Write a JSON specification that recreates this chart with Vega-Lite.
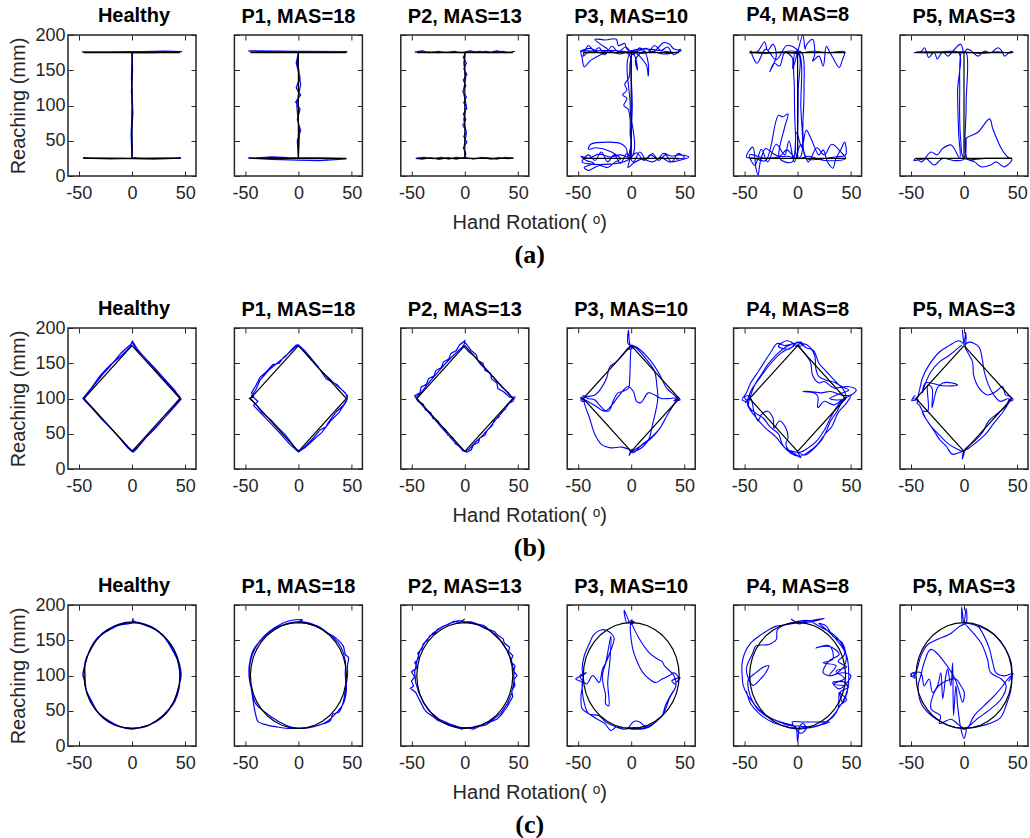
{
"$schema": "https://vega.github.io/schema/vega-lite/v6.json",
"background": "white",
"padding": {"left": 8, "top": 4, "right": 0, "bottom": 0},
"config": {
  "view": {"stroke": "#262626", "strokeWidth": 1.5},
  "axis": {"grid": false, "domain": false, "ticks": true, "tickSize": -5, "tickColor": "#262626", "tickWidth": 1,
           "labelFont": "Liberation Sans", "labelFontSize": 18, "labelColor": "#262626",
           "titleFont": "Liberation Sans", "titleFontSize": 20, "titleFontWeight": "normal", "titleColor": "#262626", "titlePadding": 6},
  "axisX": {"tickCount": 3, "labelPadding": 13, "labelExpr": "'' + datum.value"},
  "axisY": {"tickCount": 4, "labelPadding": 8},
  "title": {"font": "Liberation Sans", "fontSize": 20, "fontWeight": "bold", "color": "#000000", "offset": 8}
},
"datasets": {
"ref": [
{"s":"I","x":-45,"y":175},{"s":"I","x":45,"y":175},{"s":"I","x":0,"y":175},{"s":"I","x":0,"y":25},{"s":"I","x":-45,"y":25},{"s":"I","x":45,"y":25},
{"s":"D","x":0,"y":175},{"s":"D","x":45,"y":100},{"s":"D","x":0,"y":25},{"s":"D","x":-45,"y":100},{"s":"D","x":0,"y":175},
{"s":"C","x":45,"y":100},{"s":"C","x":44.3,"y":113},{"s":"C","x":42.3,"y":125.7},{"s":"C","x":39,"y":137.5},{"s":"C","x":34.5,"y":148.2},{"s":"C","x":28.9,"y":157.5},{"s":"C","x":22.5,"y":165},{"s":"C","x":15.4,"y":170.5},{"s":"C","x":7.8,"y":173.9},{"s":"C","x":0,"y":175},
{"s":"C","x":-7.8,"y":173.9},{"s":"C","x":-15.4,"y":170.5},{"s":"C","x":-22.5,"y":165},{"s":"C","x":-28.9,"y":157.5},{"s":"C","x":-34.5,"y":148.2},{"s":"C","x":-39,"y":137.5},{"s":"C","x":-42.3,"y":125.7},{"s":"C","x":-44.3,"y":113},{"s":"C","x":-45,"y":100},
{"s":"C","x":-44.3,"y":87},{"s":"C","x":-42.3,"y":74.3},{"s":"C","x":-39,"y":62.5},{"s":"C","x":-34.5,"y":51.8},{"s":"C","x":-28.9,"y":42.5},{"s":"C","x":-22.5,"y":35},{"s":"C","x":-15.4,"y":29.5},{"s":"C","x":-7.8,"y":26.1},{"s":"C","x":0,"y":25},
{"s":"C","x":7.8,"y":26.1},{"s":"C","x":15.4,"y":29.5},{"s":"C","x":22.5,"y":35},{"s":"C","x":28.9,"y":42.5},{"s":"C","x":34.5,"y":51.8},{"s":"C","x":39,"y":62.5},{"s":"C","x":42.3,"y":74.3},{"s":"C","x":44.3,"y":87},{"s":"C","x":45,"y":100}
],
"tr": [
{"p":"a1","x":-47,"y":176},{"p":"a1","x":-20,"y":175.5},{"p":"a1","x":10,"y":176.5},{"p":"a1","x":30,"y":177},{"p":"a1","x":47,"y":176.5},{"p":"a1","x":20,"y":175},{"p":"a1","x":0,"y":175},{"p":"a1","x":0.5,"y":150},{"p":"a1","x":-0.5,"y":120},{"p":"a1","x":0.8,"y":90},{"p":"a1","x":-0.3,"y":60},{"p":"a1","x":0.3,"y":40},{"p":"a1","x":0,"y":25},{"p":"a1","x":-20,"y":24.5},{"p":"a1","x":-46,"y":25.5},{"p":"a1","x":-10,"y":25},{"p":"a1","x":20,"y":24},{"p":"a1","x":46,"y":25.5},{"p":"a1","x":10,"y":25},{"p":"a1","x":0,"y":26},{"p":"a1","x":-0.8,"y":60},{"p":"a1","x":0.5,"y":100},{"p":"a1","x":-0.5,"y":140},{"p":"a1","x":0.5,"y":176},{"p":"a1","x":-20,"y":176},{"p":"a1","x":-46,"y":175.5},{"p":"a1","x":0,"y":176.5},{"p":"a1","x":47,"y":176},{"p":"a1","x":0,"y":175},
{"p":"a2","x":-47,"y":177.5},{"p":"a2","x":-20,"y":177},{"p":"a2","x":10,"y":176.5},{"p":"a2","x":46,"y":176},{"p":"a2","x":0,"y":175.5},{"p":"a2","x":-2,"y":160},{"p":"a2","x":1.5,"y":140},{"p":"a2","x":-2,"y":125},{"p":"a2","x":2,"y":115},{"p":"a2","x":-2.5,"y":105},{"p":"a2","x":1.5,"y":95},{"p":"a2","x":-1,"y":80},{"p":"a2","x":2,"y":65},{"p":"a2","x":-1,"y":50},{"p":"a2","x":0,"y":26},{"p":"a2","x":-45,"y":25},{"p":"a2","x":-25,"y":27},{"p":"a2","x":-10,"y":26},{"p":"a2","x":20,"y":25.5},{"p":"a2","x":45,"y":24.5},{"p":"a2","x":20,"y":22},{"p":"a2","x":0,"y":22.5},{"p":"a2","x":-25,"y":23.5},{"p":"a2","x":-47,"y":25.5},{"p":"a2","x":0,"y":25},{"p":"a2","x":1,"y":60},{"p":"a2","x":-1.5,"y":100},{"p":"a2","x":2,"y":130},{"p":"a2","x":-1,"y":165},{"p":"a2","x":0,"y":176},{"p":"a2","x":46,"y":176.5},{"p":"a2","x":-46,"y":177},
{"p":"a3","x":-47,"y":176},{"p":"a3","x":-40,"y":177.5},{"p":"a3","x":-33,"y":175},{"p":"a3","x":-25,"y":177},{"p":"a3","x":-18,"y":175.5},{"p":"a3","x":-10,"y":177},{"p":"a3","x":-3,"y":175},{"p":"a3","x":5,"y":177.5},{"p":"a3","x":12,"y":175.5},{"p":"a3","x":20,"y":177},{"p":"a3","x":28,"y":175},{"p":"a3","x":35,"y":177},{"p":"a3","x":42,"y":175.5},{"p":"a3","x":47,"y":176.5},{"p":"a3","x":38,"y":175},{"p":"a3","x":30,"y":177.5},{"p":"a3","x":22,"y":175},{"p":"a3","x":14,"y":177},{"p":"a3","x":6,"y":175.5},{"p":"a3","x":1,"y":176},
{"p":"a3","x":-1.5,"y":168},{"p":"a3","x":1.5,"y":160},{"p":"a3","x":-1,"y":152},{"p":"a3","x":2,"y":144},{"p":"a3","x":-1.5,"y":136},{"p":"a3","x":1,"y":128},{"p":"a3","x":-2,"y":120},{"p":"a3","x":1.5,"y":112},{"p":"a3","x":-1,"y":104},{"p":"a3","x":2,"y":96},{"p":"a3","x":-1.5,"y":88},{"p":"a3","x":1,"y":80},{"p":"a3","x":-2,"y":72},{"p":"a3","x":1.5,"y":64},{"p":"a3","x":-1,"y":56},{"p":"a3","x":2,"y":48},{"p":"a3","x":-1.5,"y":40},{"p":"a3","x":1,"y":32},{"p":"a3","x":0,"y":25},
{"p":"a3","x":-8,"y":26.5},{"p":"a3","x":-15,"y":24},{"p":"a3","x":-22,"y":26.5},{"p":"a3","x":-30,"y":24.5},{"p":"a3","x":-38,"y":26.5},{"p":"a3","x":-46,"y":25},{"p":"a3","x":-40,"y":24},{"p":"a3","x":-32,"y":26},{"p":"a3","x":-24,"y":23.5},{"p":"a3","x":-16,"y":26},{"p":"a3","x":-8,"y":24},{"p":"a3","x":0,"y":26.5},{"p":"a3","x":8,"y":24},{"p":"a3","x":16,"y":26.5},{"p":"a3","x":24,"y":24},{"p":"a3","x":32,"y":26},{"p":"a3","x":40,"y":24.5},{"p":"a3","x":46,"y":25.5},{"p":"a3","x":38,"y":26.5},{"p":"a3","x":30,"y":24},{"p":"a3","x":20,"y":26},{"p":"a3","x":10,"y":24.5},{"p":"a3","x":1,"y":25},
{"p":"a3","x":-1,"y":40},{"p":"a3","x":1.5,"y":60},{"p":"a3","x":-1,"y":80},{"p":"a3","x":1.5,"y":100},{"p":"a3","x":-1.5,"y":120},{"p":"a3","x":1,"y":140},{"p":"a3","x":-1,"y":160},{"p":"a3","x":0.5,"y":175},{"p":"a3","x":-10,"y":176.5},{"p":"a3","x":-25,"y":175},{"p":"a3","x":-40,"y":177},{"p":"a3","x":-47,"y":175.5},
{"p":"a4","x":-48,"y":177},{"p":"a4","x":-38,"y":181},{"p":"a4","x":-30,"y":175},{"p":"a4","x":-22,"y":179},{"p":"a4","x":-28,"y":186},{"p":"a4","x":-34,"y":194},{"p":"a4","x":-24,"y":193},{"p":"a4","x":-14,"y":194},{"p":"a4","x":-12,"y":185},{"p":"a4","x":-6,"y":188},{"p":"a4","x":-4,"y":180},{"p":"a4","x":6,"y":177},{"p":"a4","x":14,"y":181},{"p":"a4","x":20,"y":176},{"p":"a4","x":26,"y":183},{"p":"a4","x":30,"y":189},{"p":"a4","x":36,"y":187},{"p":"a4","x":40,"y":180},{"p":"a4","x":47,"y":178},{"p":"a4","x":40,"y":175},{"p":"a4","x":30,"y":173},{"p":"a4","x":20,"y":177},{"p":"a4","x":10,"y":174},{"p":"a4","x":0,"y":178},{"p":"a4","x":-10,"y":173},{"p":"a4","x":-20,"y":176},{"p":"a4","x":-30,"y":171},{"p":"a4","x":-38,"y":164},{"p":"a4","x":-44,"y":155},{"p":"a4","x":-46,"y":168},{"p":"a4","x":-47,"y":176},{"p":"a4","x":-36,"y":177},{"p":"a4","x":-26,"y":174},{"p":"a4","x":-16,"y":178},{"p":"a4","x":-6,"y":176},{"p":"a4","x":0,"y":177},{"p":"a4","x":4,"y":168},{"p":"a4","x":6,"y":150},{"p":"a4","x":4,"y":165},{"p":"a4","x":12,"y":177},{"p":"a4","x":16,"y":160},{"p":"a4","x":16,"y":142},{"p":"a4","x":14,"y":158},{"p":"a4","x":2,"y":176},
{"p":"a4","x":-1,"y":160},{"p":"a4","x":-2,"y":140},{"p":"a4","x":-6,"y":130},{"p":"a4","x":-4,"y":122},{"p":"a4","x":-8,"y":115},{"p":"a4","x":-4,"y":110},{"p":"a4","x":-7,"y":100},{"p":"a4","x":-3,"y":95},{"p":"a4","x":-1,"y":80},{"p":"a4","x":-1,"y":60},{"p":"a4","x":0,"y":45},{"p":"a4","x":-2,"y":30},{"p":"a4","x":-1,"y":26},{"p":"a4","x":-10,"y":30},{"p":"a4","x":-20,"y":27},{"p":"a4","x":-30,"y":31},{"p":"a4","x":-40,"y":25},{"p":"a4","x":-47,"y":28},{"p":"a4","x":-42,"y":22},{"p":"a4","x":-35,"y":18},{"p":"a4","x":-44,"y":12},{"p":"a4","x":-40,"y":8},{"p":"a4","x":-30,"y":15},{"p":"a4","x":-22,"y":12},{"p":"a4","x":-15,"y":20},{"p":"a4","x":-10,"y":24},{"p":"a4","x":-20,"y":35},{"p":"a4","x":-33,"y":40},{"p":"a4","x":-40,"y":38},{"p":"a4","x":-38,"y":45},{"p":"a4","x":-20,"y":48},{"p":"a4","x":-10,"y":46},{"p":"a4","x":-5,"y":40},{"p":"a4","x":-2,"y":25},{"p":"a4","x":5,"y":33},{"p":"a4","x":12,"y":22},{"p":"a4","x":18,"y":30},{"p":"a4","x":25,"y":24},{"p":"a4","x":30,"y":32},{"p":"a4","x":38,"y":28},{"p":"a4","x":45,"y":30},{"p":"a4","x":54,"y":27},{"p":"a4","x":45,"y":22},{"p":"a4","x":36,"y":20},{"p":"a4","x":28,"y":26},{"p":"a4","x":20,"y":20},{"p":"a4","x":10,"y":24},{"p":"a4","x":2,"y":18},{"p":"a4","x":-3,"y":12},{"p":"a4","x":-1,"y":26},{"p":"a4","x":0,"y":60},{"p":"a4","x":1,"y":100},{"p":"a4","x":0,"y":140},{"p":"a4","x":-1,"y":170},{"p":"a4","x":-5,"y":176},{"p":"a4","x":-20,"y":178},{"p":"a4","x":-40,"y":176},
{"p":"a4","x":-45,"y":170},{"p":"a4","x":-40,"y":185},{"p":"a4","x":-35,"y":178},{"p":"a4","x":-30,"y":182},{"p":"a4","x":-25,"y":172},{"p":"a4","x":-18,"y":184},{"p":"a4","x":-12,"y":176},{"p":"a4","x":-5,"y":183},{"p":"a4","x":2,"y":172},{"p":"a4","x":8,"y":182},{"p":"a4","x":15,"y":175},{"p":"a4","x":22,"y":185},{"p":"a4","x":28,"y":178},{"p":"a4","x":34,"y":183},{"p":"a4","x":40,"y":172},{"p":"a4","x":46,"y":180},{"p":"a4","x":44,"y":176},{"p":"a4","x":0,"y":176},{"p":"a4","x":-1,"y":100},{"p":"a4","x":0,"y":26},
{"p":"a4","x":-46,"y":20},{"p":"a4","x":-40,"y":30},{"p":"a4","x":-34,"y":22},{"p":"a4","x":-28,"y":34},{"p":"a4","x":-22,"y":20},{"p":"a4","x":-16,"y":30},{"p":"a4","x":-10,"y":18},{"p":"a4","x":-4,"y":32},{"p":"a4","x":2,"y":20},{"p":"a4","x":8,"y":34},{"p":"a4","x":14,"y":24},{"p":"a4","x":20,"y":32},{"p":"a4","x":26,"y":22},{"p":"a4","x":32,"y":30},{"p":"a4","x":38,"y":20},{"p":"a4","x":44,"y":32},{"p":"a4","x":50,"y":26},{"p":"a4","x":42,"y":24},
{"p":"a5","x":-45,"y":175},{"p":"a5","x":-38,"y":176},{"p":"a5","x":-31,"y":190},{"p":"a5","x":-28,"y":178},{"p":"a5","x":-23,"y":187},{"p":"a5","x":-20,"y":170},{"p":"a5","x":-26,"y":148},{"p":"a5","x":-22,"y":160},{"p":"a5","x":-17,"y":156},{"p":"a5","x":-12,"y":175},{"p":"a5","x":-5,"y":168},{"p":"a5","x":-4.5,"y":152},{"p":"a5","x":0,"y":176},{"p":"a5","x":5,"y":200},{"p":"a5","x":7,"y":180},{"p":"a5","x":8,"y":185},{"p":"a5","x":14,"y":194},{"p":"a5","x":16,"y":172},{"p":"a5","x":14,"y":163},{"p":"a5","x":20,"y":170},{"p":"a5","x":24,"y":156},{"p":"a5","x":27,"y":184},{"p":"a5","x":30,"y":176},{"p":"a5","x":33,"y":168},{"p":"a5","x":39,"y":154},{"p":"a5","x":42,"y":165},{"p":"a5","x":44,"y":176},{"p":"a5","x":30,"y":175},{"p":"a5","x":15,"y":177},{"p":"a5","x":0,"y":174},{"p":"a5","x":-15,"y":176},{"p":"a5","x":-30,"y":174},{"p":"a5","x":-45,"y":176},{"p":"a5","x":-20,"y":175},{"p":"a5","x":0,"y":175},{"p":"a5","x":0.5,"y":120},{"p":"a5","x":0,"y":60},{"p":"a5","x":-1,"y":25},{"p":"a5","x":-5,"y":30},{"p":"a5","x":-10,"y":37},{"p":"a5","x":-17,"y":28},{"p":"a5","x":-23,"y":32},{"p":"a5","x":-30,"y":39},{"p":"a5","x":-35,"y":20},{"p":"a5","x":-37,"y":1.5},{"p":"a5","x":-39,"y":11},{"p":"a5","x":-42,"y":41},{"p":"a5","x":-48,"y":27},{"p":"a5","x":-40,"y":25},{"p":"a5","x":-30,"y":22},{"p":"a5","x":-18,"y":86},{"p":"a5","x":-14,"y":84},{"p":"a5","x":-9,"y":88},{"p":"a5","x":-12,"y":70},{"p":"a5","x":-17,"y":25},{"p":"a5","x":-5,"y":20},{"p":"a5","x":-1,"y":62},{"p":"a5","x":4,"y":40},{"p":"a5","x":8,"y":65},{"p":"a5","x":12,"y":55},{"p":"a5","x":14,"y":48},{"p":"a5","x":20,"y":30},{"p":"a5","x":24,"y":37},{"p":"a5","x":28,"y":20},{"p":"a5","x":30,"y":15.5},{"p":"a5","x":33,"y":11},{"p":"a5","x":36,"y":25},{"p":"a5","x":41,"y":39},{"p":"a5","x":44,"y":48},{"p":"a5","x":45,"y":30},{"p":"a5","x":35,"y":27},{"p":"a5","x":20,"y":24},{"p":"a5","x":8,"y":25},{"p":"a5","x":5,"y":60},{"p":"a5","x":6,"y":120},{"p":"a5","x":4,"y":175},{"p":"a5","x":-2,"y":176},{"p":"a5","x":-3,"y":120},{"p":"a5","x":-2,"y":60},{"p":"a5","x":0,"y":25},{"p":"a5","x":10,"y":28},{"p":"a5","x":25,"y":22},{"p":"a5","x":45,"y":25},
{"p":"a5","x":40,"y":35},{"p":"a5","x":32,"y":45},{"p":"a5","x":25,"y":30},{"p":"a5","x":18,"y":40},{"p":"a5","x":10,"y":20},{"p":"a5","x":3,"y":45},{"p":"a5","x":-3,"y":20},{"p":"a5","x":-8,"y":50},{"p":"a5","x":-12,"y":30},{"p":"a5","x":-20,"y":45},{"p":"a5","x":-28,"y":20},{"p":"a5","x":-34,"y":38},{"p":"a5","x":-40,"y":15},{"p":"a5","x":-45,"y":30},{"p":"a5","x":-30,"y":25},{"p":"a5","x":-10,"y":28},{"p":"a5","x":2,"y":26},{"p":"a5","x":3,"y":100},{"p":"a5","x":1,"y":176},{"p":"a5","x":-10,"y":185},{"p":"a5","x":-20,"y":165},{"p":"a5","x":-30,"y":180},{"p":"a5","x":-38,"y":160},{"p":"a5","x":-44,"y":178},
{"p":"a6","x":-47,"y":175},{"p":"a6","x":-40,"y":177},{"p":"a6","x":-37,"y":182},{"p":"a6","x":-33,"y":168},{"p":"a6","x":-28,"y":176},{"p":"a6","x":-25,"y":166},{"p":"a6","x":-20,"y":176},{"p":"a6","x":-15,"y":170},{"p":"a6","x":-10,"y":178},{"p":"a6","x":-3,"y":187},{"p":"a6","x":0,"y":175},{"p":"a6","x":3,"y":180},{"p":"a6","x":8,"y":176},{"p":"a6","x":13,"y":170},{"p":"a6","x":19,"y":177},{"p":"a6","x":25,"y":175},{"p":"a6","x":32,"y":182},{"p":"a6","x":36,"y":176},{"p":"a6","x":38,"y":170},{"p":"a6","x":44,"y":177},{"p":"a6","x":46,"y":175},{"p":"a6","x":30,"y":176},{"p":"a6","x":15,"y":174},{"p":"a6","x":0,"y":176},{"p":"a6","x":-15,"y":177},{"p":"a6","x":-30,"y":175},{"p":"a6","x":-45,"y":176},{"p":"a6","x":-20,"y":176},{"p":"a6","x":-5,"y":175},{"p":"a6","x":-6,"y":120},{"p":"a6","x":-5,"y":60},{"p":"a6","x":-4,"y":25},{"p":"a6","x":-12,"y":44},{"p":"a6","x":-20,"y":39},{"p":"a6","x":-25,"y":30},{"p":"a6","x":-31,"y":34},{"p":"a6","x":-40,"y":20},{"p":"a6","x":-45,"y":25},{"p":"a6","x":-47,"y":22},{"p":"a6","x":-35,"y":24},{"p":"a6","x":-28,"y":15.5},{"p":"a6","x":-20,"y":25},{"p":"a6","x":-10,"y":22},{"p":"a6","x":0,"y":24},{"p":"a6","x":2,"y":48},{"p":"a6","x":2,"y":53},{"p":"a6","x":13,"y":62},{"p":"a6","x":24,"y":81},{"p":"a6","x":27,"y":67},{"p":"a6","x":35,"y":39},{"p":"a6","x":41,"y":27},{"p":"a6","x":45,"y":24},{"p":"a6","x":38,"y":13},{"p":"a6","x":30,"y":20},{"p":"a6","x":25,"y":15.5},{"p":"a6","x":16,"y":13},{"p":"a6","x":10,"y":20},{"p":"a6","x":3,"y":25},{"p":"a6","x":2,"y":100},{"p":"a6","x":2,"y":175},{"p":"a6","x":-2,"y":176},{"p":"a6","x":-4,"y":120},{"p":"a6","x":-3,"y":50},{"p":"a6","x":0,"y":25},{"p":"a6","x":20,"y":25},{"p":"a6","x":45,"y":25},
{"p":"b1","x":0,"y":176},{"p":"b1","x":-5,"y":168},{"p":"b1","x":-12,"y":158},{"p":"b1","x":-20,"y":148},{"p":"b1","x":-24,"y":142},{"p":"b1","x":-30,"y":132},{"p":"b1","x":-38,"y":115},{"p":"b1","x":-46,"y":100},{"p":"b1","x":-38,"y":87},{"p":"b1","x":-28,"y":70},{"p":"b1","x":-20,"y":58},{"p":"b1","x":-10,"y":42},{"p":"b1","x":-3,"y":30},{"p":"b1","x":0,"y":26},{"p":"b1","x":5,"y":31},{"p":"b1","x":12,"y":43},{"p":"b1","x":22,"y":58},{"p":"b1","x":30,"y":72},{"p":"b1","x":38,"y":86},{"p":"b1","x":45,"y":100},{"p":"b1","x":40,"y":112},{"p":"b1","x":32,"y":125},{"p":"b1","x":22,"y":142},{"p":"b1","x":12,"y":158},{"p":"b1","x":4,"y":170},{"p":"b1","x":0,"y":180},{"p":"b1","x":-1,"y":177},{"p":"b1","x":-10,"y":165},{"p":"b1","x":-22,"y":143},{"p":"b1","x":-26,"y":137},{"p":"b1","x":-34,"y":122},{"p":"b1","x":-44,"y":103},{"p":"b1","x":-45,"y":98},{"p":"b1","x":-36,"y":84},{"p":"b1","x":-25,"y":66},{"p":"b1","x":-14,"y":48},{"p":"b1","x":-4,"y":30},{"p":"b1","x":1,"y":24},{"p":"b1","x":4,"y":28},{"p":"b1","x":15,"y":48},{"p":"b1","x":25,"y":64},{"p":"b1","x":35,"y":80},{"p":"b1","x":46,"y":99},{"p":"b1","x":44,"y":104},{"p":"b1","x":35,"y":118},{"p":"b1","x":25,"y":135},{"p":"b1","x":14,"y":154},{"p":"b1","x":5,"y":170},{"p":"b1","x":0,"y":182},
{"p":"b2","x":0,"y":177},{"p":"b2","x":-8,"y":166},{"p":"b2","x":-14,"y":158},{"p":"b2","x":-18,"y":150},{"p":"b2","x":-24,"y":148},{"p":"b2","x":-30,"y":138},{"p":"b2","x":-36,"y":130},{"p":"b2","x":-40,"y":118},{"p":"b2","x":-44,"y":108},{"p":"b2","x":-42,"y":103},{"p":"b2","x":-46,"y":100},{"p":"b2","x":-40,"y":92},{"p":"b2","x":-34,"y":80},{"p":"b2","x":-26,"y":70},{"p":"b2","x":-20,"y":60},{"p":"b2","x":-12,"y":48},{"p":"b2","x":-6,"y":36},{"p":"b2","x":-2,"y":28},{"p":"b2","x":1,"y":25},{"p":"b2","x":8,"y":35},{"p":"b2","x":14,"y":44},{"p":"b2","x":20,"y":55},{"p":"b2","x":26,"y":60},{"p":"b2","x":28,"y":66},{"p":"b2","x":33,"y":76},{"p":"b2","x":36,"y":82},{"p":"b2","x":42,"y":90},{"p":"b2","x":46,"y":100},{"p":"b2","x":44,"y":108},{"p":"b2","x":38,"y":116},{"p":"b2","x":32,"y":124},{"p":"b2","x":28,"y":130},{"p":"b2","x":22,"y":138},{"p":"b2","x":16,"y":148},{"p":"b2","x":8,"y":162},{"p":"b2","x":3,"y":172},{"p":"b2","x":-2,"y":176},{"p":"b2","x":-6,"y":170},{"p":"b2","x":-12,"y":160},{"p":"b2","x":-20,"y":150},{"p":"b2","x":-28,"y":140},{"p":"b2","x":-36,"y":126},{"p":"b2","x":-40,"y":112},{"p":"b2","x":-44,"y":104},{"p":"b2","x":-38,"y":96},{"p":"b2","x":-42,"y":90},{"p":"b2","x":-37,"y":82},{"p":"b2","x":-28,"y":68},{"p":"b2","x":-18,"y":52},{"p":"b2","x":-8,"y":35},{"p":"b2","x":0,"y":24},{"p":"b2","x":6,"y":30},{"p":"b2","x":16,"y":44},{"p":"b2","x":22,"y":52},{"p":"b2","x":30,"y":68},{"p":"b2","x":38,"y":80},{"p":"b2","x":45,"y":96},{"p":"b2","x":46,"y":104},{"p":"b2","x":36,"y":120},{"p":"b2","x":26,"y":128},{"p":"b2","x":18,"y":146},{"p":"b2","x":6,"y":168},{"p":"b2","x":0,"y":176},
{"p":"b3","x":0,"y":180},{"p":"b3","x":5,"y":170},{"p":"b3","x":6,"y":168},{"p":"b3","x":11,"y":162},{"p":"b3","x":12,"y":154},{"p":"b3","x":17,"y":150},{"p":"b3","x":19,"y":140},{"p":"b3","x":24,"y":136},{"p":"b3","x":25,"y":128},{"p":"b3","x":30,"y":122},{"p":"b3","x":31,"y":114},{"p":"b3","x":36,"y":110},{"p":"b3","x":39,"y":106},{"p":"b3","x":42,"y":102},{"p":"b3","x":47,"y":102},{"p":"b3","x":45,"y":96},{"p":"b3","x":40,"y":92},{"p":"b3","x":38,"y":85},{"p":"b3","x":34,"y":80},{"p":"b3","x":32,"y":74},{"p":"b3","x":27,"y":68},{"p":"b3","x":26,"y":62},{"p":"b3","x":21,"y":55},{"p":"b3","x":19,"y":48},{"p":"b3","x":14,"y":44},{"p":"b3","x":13,"y":38},{"p":"b3","x":8,"y":34},{"p":"b3","x":6,"y":27},{"p":"b3","x":2,"y":24},{"p":"b3","x":-2,"y":26},{"p":"b3","x":-5,"y":32},{"p":"b3","x":-9,"y":36},{"p":"b3","x":-11,"y":44},{"p":"b3","x":-16,"y":48},{"p":"b3","x":-18,"y":56},{"p":"b3","x":-23,"y":60},{"p":"b3","x":-25,"y":68},{"p":"b3","x":-30,"y":72},{"p":"b3","x":-32,"y":80},{"p":"b3","x":-37,"y":84},{"p":"b3","x":-39,"y":92},{"p":"b3","x":-44,"y":96},{"p":"b3","x":-47,"y":104},{"p":"b3","x":-42,"y":108},{"p":"b3","x":-41,"y":116},{"p":"b3","x":-36,"y":120},{"p":"b3","x":-34,"y":128},{"p":"b3","x":-29,"y":132},{"p":"b3","x":-27,"y":140},{"p":"b3","x":-22,"y":144},{"p":"b3","x":-20,"y":152},{"p":"b3","x":-15,"y":156},{"p":"b3","x":-13,"y":164},{"p":"b3","x":-8,"y":168},{"p":"b3","x":-5,"y":176},{"p":"b3","x":0,"y":182},{"p":"b3","x":-1,"y":174},{"p":"b3","x":4,"y":166},{"p":"b3","x":9,"y":160},{"p":"b3","x":15,"y":148},{"p":"b3","x":22,"y":138},{"p":"b3","x":29,"y":126},{"p":"b3","x":35,"y":116},{"p":"b3","x":41,"y":108},{"p":"b3","x":45,"y":100},{"p":"b3","x":41,"y":92},{"p":"b3","x":36,"y":82},{"p":"b3","x":30,"y":72},{"p":"b3","x":24,"y":60},{"p":"b3","x":17,"y":48},{"p":"b3","x":10,"y":38},{"p":"b3","x":4,"y":28},{"p":"b3","x":0,"y":25},{"p":"b3","x":-4,"y":30},{"p":"b3","x":-12,"y":42},{"p":"b3","x":-20,"y":56},{"p":"b3","x":-28,"y":70},{"p":"b3","x":-35,"y":82},{"p":"b3","x":-42,"y":94},{"p":"b3","x":-46,"y":101},{"p":"b3","x":-40,"y":110},{"p":"b3","x":-33,"y":124},{"p":"b3","x":-26,"y":136},{"p":"b3","x":-18,"y":150},{"p":"b3","x":-10,"y":162},{"p":"b3","x":-3,"y":172},{"p":"b3","x":0,"y":178},
{"p":"b4","x":0,"y":174},{"p":"b4","x":-3,"y":178},{"p":"b4","x":-2.5,"y":197},{"p":"b4","x":-1,"y":176},{"p":"b4","x":2,"y":172},{"p":"b4","x":-3,"y":170},{"p":"b4","x":1,"y":176},{"p":"b4","x":0,"y":173},{"p":"b4","x":-1.4,"y":129},{"p":"b4","x":-2.5,"y":115},{"p":"b4","x":-8,"y":110},{"p":"b4","x":-12.5,"y":108},{"p":"b4","x":-17,"y":96},{"p":"b4","x":-20,"y":84},{"p":"b4","x":-23,"y":82},{"p":"b4","x":-30,"y":91},{"p":"b4","x":-34,"y":98},{"p":"b4","x":-41,"y":100},{"p":"b4","x":-45,"y":104},{"p":"b4","x":-47,"y":97},{"p":"b4","x":-43,"y":96},{"p":"b4","x":-48,"y":101},{"p":"b4","x":-44,"y":99},{"p":"b4","x":-44,"y":94},{"p":"b4","x":-39,"y":72},{"p":"b4","x":-34,"y":49},{"p":"b4","x":-28,"y":35},{"p":"b4","x":-19,"y":30},{"p":"b4","x":-9,"y":31},{"p":"b4","x":-1,"y":26},{"p":"b4","x":-2,"y":19},{"p":"b4","x":1,"y":28},{"p":"b4","x":-1,"y":24},{"p":"b4","x":9,"y":33},{"p":"b4","x":19,"y":44},{"p":"b4","x":27,"y":58},{"p":"b4","x":34,"y":77},{"p":"b4","x":41,"y":94},{"p":"b4","x":45,"y":100},{"p":"b4","x":42,"y":103},{"p":"b4","x":46,"y":98},{"p":"b4","x":40,"y":97},{"p":"b4","x":44,"y":101},{"p":"b4","x":36,"y":100},{"p":"b4","x":28,"y":100},{"p":"b4","x":22,"y":105},{"p":"b4","x":16,"y":108},{"p":"b4","x":9,"y":94},{"p":"b4","x":5,"y":96},{"p":"b4","x":2,"y":110},{"p":"b4","x":-3,"y":117},{"p":"b4","x":-11,"y":105},{"p":"b4","x":-19,"y":89},{"p":"b4","x":-25,"y":82},{"p":"b4","x":-33,"y":89},{"p":"b4","x":-41,"y":96},{"p":"b4","x":-45,"y":100},{"p":"b4","x":-43,"y":102},{"p":"b4","x":-34,"y":105},{"p":"b4","x":-28,"y":115},{"p":"b4","x":-23,"y":129},{"p":"b4","x":-20,"y":145},{"p":"b4","x":-14,"y":152},{"p":"b4","x":-5,"y":168},{"p":"b4","x":0,"y":175},{"p":"b4","x":5,"y":171},{"p":"b4","x":16,"y":152},{"p":"b4","x":22,"y":138},{"p":"b4","x":24,"y":119},{"p":"b4","x":25,"y":101},{"p":"b4","x":23,"y":82},{"p":"b4","x":20,"y":63},{"p":"b4","x":17,"y":44},{"p":"b4","x":12,"y":33},{"p":"b4","x":5,"y":26},{"p":"b4","x":0,"y":25},{"p":"b4","x":2,"y":23},{"p":"b4","x":9,"y":33},{"p":"b4","x":19,"y":45},{"p":"b4","x":27,"y":58},{"p":"b4","x":34,"y":77},{"p":"b4","x":41,"y":94},{"p":"b4","x":43,"y":100},{"p":"b4","x":33,"y":115},{"p":"b4","x":27,"y":133},{"p":"b4","x":19,"y":152},{"p":"b4","x":6,"y":172},{"p":"b4","x":0,"y":176},
{"p":"b5","x":-3,"y":176},{"p":"b5","x":-6,"y":180},{"p":"b5","x":0,"y":175},{"p":"b5","x":2,"y":178},{"p":"b5","x":6,"y":176},{"p":"b5","x":-2,"y":174},{"p":"b5","x":4,"y":180},{"p":"b5","x":-6,"y":177},{"p":"b5","x":-12,"y":175},{"p":"b5","x":-19,"y":178},{"p":"b5","x":-25,"y":166},{"p":"b5","x":-31,"y":152},{"p":"b5","x":-37,"y":138},{"p":"b5","x":-44,"y":122},{"p":"b5","x":-48,"y":108},{"p":"b5","x":-52,"y":98},{"p":"b5","x":-47,"y":96},{"p":"b5","x":-50,"y":102},{"p":"b5","x":-45,"y":104},{"p":"b5","x":-49,"y":94},{"p":"b5","x":-44,"y":100},{"p":"b5","x":-41,"y":82},{"p":"b5","x":-37,"y":68},{"p":"b5","x":-34,"y":77},{"p":"b5","x":-28,"y":82},{"p":"b5","x":-23,"y":72},{"p":"b5","x":-22,"y":58},{"p":"b5","x":-17,"y":68},{"p":"b5","x":-11,"y":58},{"p":"b5","x":-9,"y":44},{"p":"b5","x":-11,"y":35},{"p":"b5","x":-8,"y":26},{"p":"b5","x":-2,"y":21},{"p":"b5","x":3,"y":16},{"p":"b5","x":0,"y":24},{"p":"b5","x":5,"y":20},{"p":"b5","x":9,"y":21},{"p":"b5","x":16,"y":30},{"p":"b5","x":22,"y":40},{"p":"b5","x":27,"y":54},{"p":"b5","x":31,"y":68},{"p":"b5","x":37,"y":82},{"p":"b5","x":42,"y":96},{"p":"b5","x":45,"y":100},{"p":"b5","x":44,"y":110},{"p":"b5","x":36,"y":122},{"p":"b5","x":27,"y":126},{"p":"b5","x":20,"y":131},{"p":"b5","x":17,"y":143},{"p":"b5","x":16,"y":161},{"p":"b5","x":9,"y":176},{"p":"b5","x":1,"y":177},{"p":"b5","x":12,"y":152},{"p":"b5","x":14,"y":133},{"p":"b5","x":20,"y":122},{"p":"b5","x":25,"y":124},{"p":"b5","x":34,"y":115},{"p":"b5","x":47,"y":117},{"p":"b5","x":55,"y":112},{"p":"b5","x":50,"y":105},{"p":"b5","x":41,"y":105},{"p":"b5","x":31,"y":110},{"p":"b5","x":22,"y":108},{"p":"b5","x":12,"y":110},{"p":"b5","x":5,"y":110},{"p":"b5","x":15,"y":108},{"p":"b5","x":19,"y":103},{"p":"b5","x":19,"y":87},{"p":"b5","x":25,"y":96},{"p":"b5","x":34,"y":91},{"p":"b5","x":44,"y":101},{"p":"b5","x":40,"y":95},{"p":"b5","x":35,"y":84},{"p":"b5","x":30,"y":70},{"p":"b5","x":25,"y":55},{"p":"b5","x":18,"y":40},{"p":"b5","x":10,"y":30},{"p":"b5","x":3,"y":24},{"p":"b5","x":-5,"y":25},{"p":"b5","x":-12,"y":30},{"p":"b5","x":-20,"y":45},{"p":"b5","x":-30,"y":58},{"p":"b5","x":-40,"y":75},{"p":"b5","x":-47,"y":92},{"p":"b5","x":-44,"y":110},{"p":"b5","x":-35,"y":130},{"p":"b5","x":-25,"y":150},{"p":"b5","x":-15,"y":165},{"p":"b5","x":-3,"y":176},
{"p":"b5","x":-10,"y":182},{"p":"b5","x":-18,"y":174},{"p":"b5","x":-8,"y":170},{"p":"b5","x":0,"y":180},{"p":"b5","x":8,"y":172},{"p":"b5","x":15,"y":168},{"p":"b5","x":20,"y":150},{"p":"b5","x":26,"y":140},{"p":"b5","x":32,"y":130},{"p":"b5","x":40,"y":118},{"p":"b5","x":48,"y":112},{"p":"b5","x":38,"y":106},{"p":"b5","x":30,"y":100},{"p":"b5","x":40,"y":98},{"p":"b5","x":50,"y":104},{"p":"b5","x":45,"y":92},{"p":"b5","x":38,"y":80},{"p":"b5","x":32,"y":60},{"p":"b5","x":26,"y":50},{"p":"b5","x":18,"y":34},{"p":"b5","x":10,"y":24},{"p":"b5","x":2,"y":18},{"p":"b5","x":-6,"y":22},{"p":"b5","x":-14,"y":34},{"p":"b5","x":-18,"y":50},{"p":"b5","x":-26,"y":60},{"p":"b5","x":-32,"y":72},{"p":"b5","x":-40,"y":80},{"p":"b5","x":-46,"y":90},{"p":"b5","x":-44,"y":104},{"p":"b5","x":-40,"y":120},{"p":"b5","x":-34,"y":134},{"p":"b5","x":-28,"y":148},{"p":"b5","x":-20,"y":162},{"p":"b5","x":-12,"y":172},{"p":"b5","x":-4,"y":178},
{"p":"b6","x":0,"y":176},{"p":"b6","x":-1.6,"y":197},{"p":"b6","x":0,"y":178},{"p":"b6","x":1.6,"y":194},{"p":"b6","x":1,"y":177},{"p":"b6","x":-4.7,"y":182},{"p":"b6","x":-14,"y":175},{"p":"b6","x":-23,"y":166},{"p":"b6","x":-33,"y":147},{"p":"b6","x":-39,"y":129},{"p":"b6","x":-42,"y":110},{"p":"b6","x":-44,"y":100},{"p":"b6","x":-48,"y":100},{"p":"b6","x":-46,"y":104},{"p":"b6","x":-49,"y":97},{"p":"b6","x":-43,"y":98},{"p":"b6","x":-44,"y":93},{"p":"b6","x":-42,"y":91},{"p":"b6","x":-36,"y":72},{"p":"b6","x":-28,"y":54},{"p":"b6","x":-23,"y":42},{"p":"b6","x":-17,"y":33},{"p":"b6","x":-11,"y":21},{"p":"b6","x":-5,"y":23},{"p":"b6","x":0,"y":25},{"p":"b6","x":-1.6,"y":14},{"p":"b6","x":0,"y":26},{"p":"b6","x":3,"y":28},{"p":"b6","x":11,"y":37},{"p":"b6","x":20,"y":49},{"p":"b6","x":28,"y":65},{"p":"b6","x":37,"y":82},{"p":"b6","x":44,"y":100},{"p":"b6","x":42,"y":96},{"p":"b6","x":46,"y":98},{"p":"b6","x":43,"y":103},{"p":"b6","x":39,"y":105},{"p":"b6","x":36,"y":117},{"p":"b6","x":30,"y":110},{"p":"b6","x":22,"y":105},{"p":"b6","x":14,"y":115},{"p":"b6","x":9,"y":133},{"p":"b6","x":8,"y":152},{"p":"b6","x":1,"y":175},{"p":"b6","x":5,"y":180},{"p":"b6","x":14,"y":173},{"p":"b6","x":17,"y":157},{"p":"b6","x":19,"y":138},{"p":"b6","x":23,"y":119},{"p":"b6","x":28,"y":105},{"p":"b6","x":34,"y":96},{"p":"b6","x":42,"y":100},{"p":"b6","x":39,"y":89},{"p":"b6","x":30,"y":77},{"p":"b6","x":23,"y":68},{"p":"b6","x":17,"y":51},{"p":"b6","x":8,"y":37},{"p":"b6","x":2,"y":30},{"p":"b6","x":-1,"y":25},{"p":"b6","x":-6,"y":28},{"p":"b6","x":-14,"y":35},{"p":"b6","x":-23,"y":48},{"p":"b6","x":-31,"y":61},{"p":"b6","x":-39,"y":82},{"p":"b6","x":-34,"y":82},{"p":"b6","x":-34,"y":119},{"p":"b6","x":-30,"y":115},{"p":"b6","x":-30,"y":87},{"p":"b6","x":-25,"y":115},{"p":"b6","x":-20,"y":122},{"p":"b6","x":-11,"y":122},{"p":"b6","x":-6,"y":119},{"p":"b6","x":-20,"y":118},{"p":"b6","x":-36,"y":122},{"p":"b6","x":-39,"y":108},{"p":"b6","x":-36,"y":122},{"p":"b6","x":-31,"y":138},{"p":"b6","x":-23,"y":152},{"p":"b6","x":-14,"y":161},{"p":"b6","x":-2,"y":176},
{"p":"c1","x":0,"y":176},{"p":"c1","x":1,"y":181},{"p":"c1","x":0,"y":175},{"p":"c1","x":-12,"y":171.5},{"p":"c1","x":-22,"y":164},{"p":"c1","x":-32,"y":154},{"p":"c1","x":-39,"y":138},{"p":"c1","x":-43,"y":121},{"p":"c1","x":-46,"y":100},{"p":"c1","x":-44,"y":92},{"p":"c1","x":-43,"y":80},{"p":"c1","x":-38,"y":63},{"p":"c1","x":-32,"y":48},{"p":"c1","x":-22,"y":36},{"p":"c1","x":-12,"y":28},{"p":"c1","x":0,"y":24},{"p":"c1","x":12,"y":28},{"p":"c1","x":22,"y":34},{"p":"c1","x":32,"y":46},{"p":"c1","x":39,"y":62},{"p":"c1","x":43,"y":80},{"p":"c1","x":46,"y":100},{"p":"c1","x":44,"y":119},{"p":"c1","x":39,"y":138},{"p":"c1","x":32,"y":152},{"p":"c1","x":22,"y":166},{"p":"c1","x":12,"y":173},{"p":"c1","x":0,"y":176},{"p":"c1","x":-12,"y":173},{"p":"c1","x":-24,"y":164},{"p":"c1","x":-31,"y":155},{"p":"c1","x":-39,"y":136},{"p":"c1","x":-44,"y":119},{"p":"c1","x":-44,"y":100},{"p":"c1","x":-43,"y":80},{"p":"c1","x":-38,"y":64},{"p":"c1","x":-31,"y":46},{"p":"c1","x":-22,"y":34},{"p":"c1","x":-11,"y":27},{"p":"c1","x":1,"y":25},{"p":"c1","x":12,"y":27},{"p":"c1","x":23,"y":36},{"p":"c1","x":31,"y":46},{"p":"c1","x":40,"y":63},{"p":"c1","x":44,"y":81},{"p":"c1","x":45,"y":100},{"p":"c1","x":43,"y":120},{"p":"c1","x":38,"y":136},{"p":"c1","x":30,"y":155},{"p":"c1","x":22,"y":165},{"p":"c1","x":11,"y":172},{"p":"c1","x":0,"y":178},
{"p":"c2","x":0,"y":176},{"p":"c2","x":4,"y":179},{"p":"c2","x":-10,"y":177},{"p":"c2","x":-22,"y":168},{"p":"c2","x":-32,"y":156},{"p":"c2","x":-40,"y":140},{"p":"c2","x":-45,"y":120},{"p":"c2","x":-46,"y":100},{"p":"c2","x":-44,"y":80},{"p":"c2","x":-42,"y":60},{"p":"c2","x":-40,"y":44},{"p":"c2","x":-38,"y":35},{"p":"c2","x":-30,"y":30},{"p":"c2","x":-20,"y":27},{"p":"c2","x":-10,"y":25},{"p":"c2","x":0,"y":25},{"p":"c2","x":10,"y":26},{"p":"c2","x":20,"y":30},{"p":"c2","x":30,"y":36},{"p":"c2","x":32,"y":45},{"p":"c2","x":38,"y":48},{"p":"c2","x":42,"y":62},{"p":"c2","x":44,"y":80},{"p":"c2","x":46,"y":100},{"p":"c2","x":46,"y":115},{"p":"c2","x":47,"y":125},{"p":"c2","x":44,"y":130},{"p":"c2","x":42,"y":142},{"p":"c2","x":36,"y":152},{"p":"c2","x":28,"y":160},{"p":"c2","x":18,"y":170},{"p":"c2","x":5,"y":176},{"p":"c2","x":-10,"y":174},{"p":"c2","x":-25,"y":164},{"p":"c2","x":-33,"y":153},{"p":"c2","x":-42,"y":137},{"p":"c2","x":-46,"y":115},{"p":"c2","x":-46,"y":95},{"p":"c2","x":-43,"y":75},{"p":"c2","x":-40,"y":60},{"p":"c2","x":-26,"y":42},{"p":"c2","x":-11,"y":29},{"p":"c2","x":-5,"y":26},{"p":"c2","x":5,"y":25},{"p":"c2","x":15,"y":28},{"p":"c2","x":25,"y":33},{"p":"c2","x":35,"y":46},{"p":"c2","x":42,"y":60},{"p":"c2","x":45,"y":80},{"p":"c2","x":44,"y":100},{"p":"c2","x":44,"y":120},{"p":"c2","x":40,"y":140},{"p":"c2","x":32,"y":155},{"p":"c2","x":22,"y":166},{"p":"c2","x":10,"y":173},{"p":"c2","x":0,"y":176},
{"p":"c3","x":0,"y":180},{"p":"c3","x":-5,"y":175},{"p":"c3","x":-10,"y":177},{"p":"c3","x":-16,"y":172},{"p":"c3","x":-20,"y":170},{"p":"c3","x":-26,"y":165},{"p":"c3","x":-28,"y":160},{"p":"c3","x":-33,"y":156},{"p":"c3","x":-35,"y":150},{"p":"c3","x":-39,"y":145},{"p":"c3","x":-40,"y":138},{"p":"c3","x":-44,"y":132},{"p":"c3","x":-43,"y":125},{"p":"c3","x":-47,"y":118},{"p":"c3","x":-44,"y":112},{"p":"c3","x":-50,"y":105},{"p":"c3","x":-47,"y":98},{"p":"c3","x":-50,"y":92},{"p":"c3","x":-48,"y":85},{"p":"c3","x":-51,"y":82},{"p":"c3","x":-46,"y":76},{"p":"c3","x":-44,"y":70},{"p":"c3","x":-42,"y":64},{"p":"c3","x":-40,"y":58},{"p":"c3","x":-38,"y":52},{"p":"c3","x":-35,"y":47},{"p":"c3","x":-30,"y":42},{"p":"c3","x":-26,"y":37},{"p":"c3","x":-20,"y":33},{"p":"c3","x":-14,"y":30},{"p":"c3","x":-8,"y":27},{"p":"c3","x":-3,"y":24},{"p":"c3","x":2,"y":26},{"p":"c3","x":8,"y":24},{"p":"c3","x":14,"y":28},{"p":"c3","x":20,"y":30},{"p":"c3","x":25,"y":35},{"p":"c3","x":30,"y":38},{"p":"c3","x":34,"y":44},{"p":"c3","x":37,"y":50},{"p":"c3","x":40,"y":56},{"p":"c3","x":42,"y":62},{"p":"c3","x":45,"y":70},{"p":"c3","x":44,"y":78},{"p":"c3","x":47,"y":86},{"p":"c3","x":46,"y":94},{"p":"c3","x":49,"y":100},{"p":"c3","x":46,"y":106},{"p":"c3","x":47,"y":114},{"p":"c3","x":43,"y":120},{"p":"c3","x":45,"y":128},{"p":"c3","x":41,"y":134},{"p":"c3","x":42,"y":140},{"p":"c3","x":37,"y":146},{"p":"c3","x":36,"y":152},{"p":"c3","x":31,"y":157},{"p":"c3","x":28,"y":162},{"p":"c3","x":22,"y":166},{"p":"c3","x":18,"y":171},{"p":"c3","x":12,"y":173},{"p":"c3","x":6,"y":176},{"p":"c3","x":0,"y":176},{"p":"c3","x":-6,"y":178},{"p":"c3","x":-14,"y":174},{"p":"c3","x":-22,"y":168},{"p":"c3","x":-30,"y":160},{"p":"c3","x":-37,"y":148},{"p":"c3","x":-42,"y":135},{"p":"c3","x":-45,"y":120},{"p":"c3","x":-47,"y":105},{"p":"c3","x":-46,"y":90},{"p":"c3","x":-43,"y":75},{"p":"c3","x":-38,"y":60},{"p":"c3","x":-32,"y":48},{"p":"c3","x":-24,"y":38},{"p":"c3","x":-14,"y":31},{"p":"c3","x":-4,"y":26},{"p":"c3","x":6,"y":26},{"p":"c3","x":16,"y":30},{"p":"c3","x":26,"y":37},{"p":"c3","x":34,"y":47},{"p":"c3","x":40,"y":60},{"p":"c3","x":44,"y":75},{"p":"c3","x":46,"y":90},{"p":"c3","x":46,"y":105},{"p":"c3","x":44,"y":120},{"p":"c3","x":40,"y":135},{"p":"c3","x":33,"y":150},{"p":"c3","x":24,"y":163},{"p":"c3","x":12,"y":172},{"p":"c3","x":0,"y":176},
{"p":"c4","x":-2,"y":176},{"p":"c4","x":-6.6,"y":193},{"p":"c4","x":-4,"y":175},{"p":"c4","x":1,"y":179},{"p":"c4","x":-1,"y":172},{"p":"c4","x":3,"y":176},{"p":"c4","x":0,"y":176},{"p":"c4","x":1,"y":141},{"p":"c4","x":6,"y":118},{"p":"c4","x":11,"y":104},{"p":"c4","x":17,"y":95},{"p":"c4","x":23,"y":90},{"p":"c4","x":29,"y":95},{"p":"c4","x":36,"y":100},{"p":"c4","x":40,"y":104},{"p":"c4","x":45,"y":95},{"p":"c4","x":42,"y":90},{"p":"c4","x":46,"y":97},{"p":"c4","x":38,"y":92},{"p":"c4","x":42,"y":86},{"p":"c4","x":37,"y":72},{"p":"c4","x":32,"y":57},{"p":"c4","x":29,"y":43},{"p":"c4","x":23,"y":34},{"p":"c4","x":17,"y":27},{"p":"c4","x":8,"y":24},{"p":"c4","x":-2,"y":25},{"p":"c4","x":3,"y":35},{"p":"c4","x":8,"y":34},{"p":"c4","x":12,"y":29},{"p":"c4","x":14,"y":27},{"p":"c4","x":10,"y":24},{"p":"c4","x":-2,"y":26},{"p":"c4","x":-7,"y":24},{"p":"c4","x":-14,"y":27},{"p":"c4","x":-19,"y":22},{"p":"c4","x":-25,"y":32},{"p":"c4","x":-33,"y":39},{"p":"c4","x":-40,"y":46},{"p":"c4","x":-46,"y":53},{"p":"c4","x":-47,"y":72},{"p":"c4","x":-46,"y":90},{"p":"c4","x":-52,"y":95},{"p":"c4","x":-46,"y":100},{"p":"c4","x":-42,"y":104},{"p":"c4","x":-48,"y":100},{"p":"c4","x":-42,"y":88},{"p":"c4","x":-36,"y":100},{"p":"c4","x":-30,"y":90},{"p":"c4","x":-27,"y":109},{"p":"c4","x":-24,"y":118},{"p":"c4","x":-21,"y":141},{"p":"c4","x":-19,"y":156},{"p":"c4","x":-20,"y":120},{"p":"c4","x":-22,"y":90},{"p":"c4","x":-21,"y":57},{"p":"c4","x":-24,"y":60},{"p":"c4","x":-24,"y":72},{"p":"c4","x":-27,"y":100},{"p":"c4","x":-16,"y":153},{"p":"c4","x":-19,"y":160},{"p":"c4","x":-27,"y":165},{"p":"c4","x":-35,"y":158},{"p":"c4","x":-39,"y":146},{"p":"c4","x":-44,"y":128},{"p":"c4","x":-46,"y":109},{"p":"c4","x":-45,"y":100},{"p":"c4","x":-46,"y":85},{"p":"c4","x":-45,"y":68},{"p":"c4","x":-40,"y":46},{"p":"c4","x":-30,"y":43},{"p":"c4","x":-24,"y":34},{"p":"c4","x":-14,"y":27},{"p":"c4","x":-7,"y":24},{"p":"c4","x":2,"y":26},{"p":"c4","x":12,"y":26},{"p":"c4","x":22,"y":33},{"p":"c4","x":30,"y":45},{"p":"c4","x":36,"y":68},{"p":"c4","x":42,"y":86},{"p":"c4","x":40,"y":100},{"p":"c4","x":31,"y":114},{"p":"c4","x":29,"y":120},{"p":"c4","x":25,"y":123},{"p":"c4","x":17,"y":132},{"p":"c4","x":8,"y":151},{"p":"c4","x":0,"y":175},
{"p":"c5","x":-2,"y":176},{"p":"c5","x":-6,"y":180},{"p":"c5","x":2,"y":173},{"p":"c5","x":6,"y":178},{"p":"c5","x":-4,"y":174},{"p":"c5","x":5,"y":176},{"p":"c5","x":25,"y":181},{"p":"c5","x":12,"y":176},{"p":"c5","x":0,"y":175},{"p":"c5","x":-11,"y":172},{"p":"c5","x":-20,"y":170},{"p":"c5","x":-27,"y":165},{"p":"c5","x":-36,"y":156},{"p":"c5","x":-44,"y":146},{"p":"c5","x":-49,"y":134},{"p":"c5","x":-52,"y":118},{"p":"c5","x":-52,"y":100},{"p":"c5","x":-51,"y":86},{"p":"c5","x":-47,"y":72},{"p":"c5","x":-42,"y":62},{"p":"c5","x":-38,"y":53},{"p":"c5","x":-30,"y":43},{"p":"c5","x":-20,"y":36},{"p":"c5","x":-11,"y":32},{"p":"c5","x":-2,"y":27},{"p":"c5","x":0,"y":6},{"p":"c5","x":2,"y":28},{"p":"c5","x":5,"y":32},{"p":"c5","x":8,"y":25},{"p":"c5","x":3,"y":18},{"p":"c5","x":-5,"y":34},{"p":"c5","x":5,"y":34},{"p":"c5","x":20,"y":34},{"p":"c5","x":30,"y":34},{"p":"c5","x":14,"y":27},{"p":"c5","x":24,"y":32},{"p":"c5","x":33,"y":41},{"p":"c5","x":38,"y":53},{"p":"c5","x":39,"y":76},{"p":"c5","x":42,"y":62},{"p":"c5","x":47,"y":81},{"p":"c5","x":45,"y":90},{"p":"c5","x":33,"y":90},{"p":"c5","x":39,"y":81},{"p":"c5","x":50,"y":100},{"p":"c5","x":42,"y":104},{"p":"c5","x":30,"y":100},{"p":"c5","x":36,"y":114},{"p":"c5","x":24,"y":118},{"p":"c5","x":33,"y":123},{"p":"c5","x":30,"y":142},{"p":"c5","x":17,"y":139},{"p":"c5","x":30,"y":141},{"p":"c5","x":39,"y":130},{"p":"c5","x":29,"y":120},{"p":"c5","x":24,"y":104},{"p":"c5","x":33,"y":100},{"p":"c5","x":45,"y":118},{"p":"c5","x":42,"y":146},{"p":"c5","x":33,"y":156},{"p":"c5","x":27,"y":170},{"p":"c5","x":20,"y":174},{"p":"c5","x":27,"y":165},{"p":"c5","x":39,"y":146},{"p":"c5","x":46,"y":128},{"p":"c5","x":48,"y":100},{"p":"c5","x":47,"y":81},{"p":"c5","x":42,"y":62},{"p":"c5","x":38,"y":53},{"p":"c5","x":33,"y":41},{"p":"c5","x":24,"y":32},{"p":"c5","x":14,"y":27},{"p":"c5","x":3,"y":28},{"p":"c5","x":-10,"y":30},{"p":"c5","x":-20,"y":36},{"p":"c5","x":-30,"y":44},{"p":"c5","x":-40,"y":58},{"p":"c5","x":-46,"y":80},{"p":"c5","x":-46,"y":95},{"p":"c5","x":-39,"y":104},{"p":"c5","x":-33,"y":111},{"p":"c5","x":-27,"y":114},{"p":"c5","x":-30,"y":104},{"p":"c5","x":-36,"y":93},{"p":"c5","x":-42,"y":86},{"p":"c5","x":-46,"y":95},{"p":"c5","x":-48,"y":110},{"p":"c5","x":-42,"y":132},{"p":"c5","x":-39,"y":142},{"p":"c5","x":-27,"y":144},{"p":"c5","x":-20,"y":151},{"p":"c5","x":-19,"y":165},{"p":"c5","x":-12,"y":172},{"p":"c5","x":-2,"y":176},
{"p":"c5","x":10,"y":178},{"p":"c5","x":20,"y":170},{"p":"c5","x":32,"y":160},{"p":"c5","x":40,"y":148},{"p":"c5","x":44,"y":130},{"p":"c5","x":38,"y":120},{"p":"c5","x":46,"y":112},{"p":"c5","x":36,"y":106},{"p":"c5","x":44,"y":96},{"p":"c5","x":34,"y":88},{"p":"c5","x":48,"y":84},{"p":"c5","x":40,"y":76},{"p":"c5","x":46,"y":66},{"p":"c5","x":40,"y":58},{"p":"c5","x":36,"y":48},{"p":"c5","x":30,"y":38},{"p":"c5","x":22,"y":30},{"p":"c5","x":12,"y":26},{"p":"c5","x":0,"y":24},{"p":"c5","x":-12,"y":28},{"p":"c5","x":-24,"y":34},{"p":"c5","x":-36,"y":46},{"p":"c5","x":-44,"y":60},{"p":"c5","x":-48,"y":78},
{"p":"c6","x":-2,"y":176},{"p":"c6","x":-2.2,"y":197.5},{"p":"c6","x":0,"y":174},{"p":"c6","x":1.9,"y":195},{"p":"c6","x":2,"y":175},{"p":"c6","x":-4,"y":170},{"p":"c6","x":-12,"y":160},{"p":"c6","x":-25,"y":151},{"p":"c6","x":-34,"y":144},{"p":"c6","x":-40.5,"y":127.5},{"p":"c6","x":-44,"y":109},{"p":"c6","x":-47,"y":100},{"p":"c6","x":-50,"y":99},{"p":"c6","x":-48,"y":104},{"p":"c6","x":-46,"y":96},{"p":"c6","x":-50,"y":102},{"p":"c6","x":-40.5,"y":104},{"p":"c6","x":-37.4,"y":85.5},{"p":"c6","x":-32.7,"y":95},{"p":"c6","x":-29.5,"y":76},{"p":"c6","x":-24.8,"y":85.5},{"p":"c6","x":-21.7,"y":104},{"p":"c6","x":-20,"y":67},{"p":"c6","x":-17,"y":99.5},{"p":"c6","x":-15.4,"y":109},{"p":"c6","x":-12.3,"y":85.5},{"p":"c6","x":-10.7,"y":118},{"p":"c6","x":-9.8,"y":43.4},{"p":"c6","x":-7.6,"y":85.5},{"p":"c6","x":-6,"y":57.4},{"p":"c6","x":-3,"y":25},{"p":"c6","x":0,"y":10.7},{"p":"c6","x":2,"y":26},{"p":"c6","x":-1,"y":24},{"p":"c6","x":3,"y":25},{"p":"c6","x":9.7,"y":43.4},{"p":"c6","x":19,"y":57.4},{"p":"c6","x":28.5,"y":71.5},{"p":"c6","x":36.4,"y":85.5},{"p":"c6","x":41,"y":95},{"p":"c6","x":45,"y":100},{"p":"c6","x":42,"y":92},{"p":"c6","x":46,"y":103},{"p":"c6","x":38,"y":99.5},{"p":"c6","x":30,"y":104},{"p":"c6","x":27,"y":118},{"p":"c6","x":24,"y":137},{"p":"c6","x":19,"y":155.5},{"p":"c6","x":13,"y":169.5},{"p":"c6","x":3.4,"y":174},{"p":"c6","x":0,"y":176},{"p":"c6","x":16,"y":146},{"p":"c6","x":22,"y":123},{"p":"c6","x":25,"y":104},{"p":"c6","x":35,"y":95},{"p":"c6","x":39.5,"y":85.5},{"p":"c6","x":35,"y":67},{"p":"c6","x":25.4,"y":53},{"p":"c6","x":12.8,"y":39},{"p":"c6","x":1,"y":25},{"p":"c6","x":-5,"y":30},{"p":"c6","x":-12,"y":38},{"p":"c6","x":-23,"y":32},{"p":"c6","x":-22,"y":43},{"p":"c6","x":-31,"y":53},{"p":"c6","x":-24,"y":85},{"p":"c6","x":-8,"y":95},{"p":"c6","x":-3,"y":85.5},{"p":"c6","x":0.3,"y":76},{"p":"c6","x":-1.3,"y":62},{"p":"c6","x":-5,"y":80},{"p":"c6","x":-10,"y":100},{"p":"c6","x":-31,"y":137},{"p":"c6","x":-37.4,"y":118},{"p":"c6","x":-40.5,"y":100},{"p":"c6","x":-43,"y":85},{"p":"c6","x":-40,"y":60},{"p":"c6","x":-32,"y":45},{"p":"c6","x":-20,"y":33},{"p":"c6","x":-10,"y":27},{"p":"c6","x":0,"y":25},{"p":"c6","x":20,"y":30},{"p":"c6","x":34,"y":40},{"p":"c6","x":40,"y":60},{"p":"c6","x":44,"y":80},{"p":"c6","x":45,"y":100},{"p":"c6","x":44,"y":120},{"p":"c6","x":38,"y":140},{"p":"c6","x":28,"y":158},{"p":"c6","x":15,"y":169},{"p":"c6","x":-2,"y":176}
]
},
"spacing": 30,
"vconcat": [
{"hconcat": [
 {"width":128,"height":141,"title":{"text":"Healthy","dy":8,"dx":2},"resolve":{"axis":{"x":"independent","y":"independent"}},"layer":[
  {"data":{"name":"tr"},"transform":[{"filter":{"field":"p","equal":"a1"}}],"mark":{"type":"line","color":"#0000ff","strokeWidth":1.3},"encoding":{"x":{"field":"x","type":"quantitative","scale":{"domain":[-60,60],"nice":false},"axis":{"title":null}},"y":{"field":"y","type":"quantitative","scale":{"domain":[0,200],"nice":false},"axis":{"title":"Reaching (mm)"}},"order":{"value":null}}},
  {"data":{"name":"ref"},"transform":[{"filter":{"field":"s","equal":"I"}}],"mark":{"type":"line","color":"#000000","strokeWidth":1.2},"encoding":{"x":{"field":"x","type":"quantitative","scale":{"domain":[-60,60],"nice":false},"axis":{"orient":"top","labels":false,"title":null}},"y":{"field":"y","type":"quantitative","scale":{"domain":[0,200],"nice":false},"axis":{"orient":"right","labels":false,"title":null}},"order":{"value":null}}}]},
 {"width":128,"height":141,"title":"P1, MAS=18","resolve":{"axis":{"x":"independent","y":"independent"}},"layer":[
  {"data":{"name":"tr"},"transform":[{"filter":{"field":"p","equal":"a2"}}],"mark":{"type":"line","color":"#0000ff","strokeWidth":1.3},"encoding":{"x":{"field":"x","type":"quantitative","scale":{"domain":[-60,60],"nice":false},"axis":{"title":null}},"y":{"field":"y","type":"quantitative","scale":{"domain":[0,200],"nice":false},"axis":{"labels":false,"title":null}},"order":{"value":null}}},
  {"data":{"name":"ref"},"transform":[{"filter":{"field":"s","equal":"I"}}],"mark":{"type":"line","color":"#000000","strokeWidth":1.2},"encoding":{"x":{"field":"x","type":"quantitative","scale":{"domain":[-60,60],"nice":false},"axis":{"orient":"top","labels":false,"title":null}},"y":{"field":"y","type":"quantitative","scale":{"domain":[0,200],"nice":false},"axis":{"orient":"right","labels":false,"title":null}},"order":{"value":null}}}]},
 {"width":128,"height":141,"title":"P2, MAS=13","resolve":{"axis":{"x":"independent","y":"independent"}},"layer":[
  {"data":{"name":"tr"},"transform":[{"filter":{"field":"p","equal":"a3"}}],"mark":{"type":"line","color":"#0000ff","strokeWidth":1.1},"encoding":{"x":{"field":"x","type":"quantitative","scale":{"domain":[-60,60],"nice":false},"axis":{"title":null}},"y":{"field":"y","type":"quantitative","scale":{"domain":[0,200],"nice":false},"axis":{"labels":false,"title":null}},"order":{"value":null}}},
  {"data":{"name":"ref"},"transform":[{"filter":{"field":"s","equal":"I"}}],"mark":{"type":"line","color":"#000000","strokeWidth":1.2},"encoding":{"x":{"field":"x","type":"quantitative","scale":{"domain":[-60,60],"nice":false},"axis":{"orient":"top","labels":false,"title":null}},"y":{"field":"y","type":"quantitative","scale":{"domain":[0,200],"nice":false},"axis":{"orient":"right","labels":false,"title":null}},"order":{"value":null}}}]},
 {"width":128,"height":141,"title":"P3, MAS=10","resolve":{"axis":{"x":"independent","y":"independent"}},"layer":[
  {"data":{"name":"tr"},"transform":[{"filter":{"field":"p","equal":"a4"}}],"mark":{"type":"line","color":"#0000ff","strokeWidth":1.1,"interpolate":"catmull-rom"},"encoding":{"x":{"field":"x","type":"quantitative","scale":{"domain":[-60,60],"nice":false},"axis":{"title":null}},"y":{"field":"y","type":"quantitative","scale":{"domain":[0,200],"nice":false},"axis":{"labels":false,"title":null}},"order":{"value":null}}},
  {"data":{"name":"ref"},"transform":[{"filter":{"field":"s","equal":"I"}}],"mark":{"type":"line","color":"#000000","strokeWidth":1.2},"encoding":{"x":{"field":"x","type":"quantitative","scale":{"domain":[-60,60],"nice":false},"axis":{"orient":"top","labels":false,"title":null}},"y":{"field":"y","type":"quantitative","scale":{"domain":[0,200],"nice":false},"axis":{"orient":"right","labels":false,"title":null}},"order":{"value":null}}}]},
 {"width":128,"height":141,"title":"P4, MAS=8","resolve":{"axis":{"x":"independent","y":"independent"}},"layer":[
  {"data":{"name":"tr"},"transform":[{"filter":{"field":"p","equal":"a5"}}],"mark":{"type":"line","color":"#0000ff","strokeWidth":1.1,"interpolate":"catmull-rom"},"encoding":{"x":{"field":"x","type":"quantitative","scale":{"domain":[-60,60],"nice":false},"axis":{"title":null}},"y":{"field":"y","type":"quantitative","scale":{"domain":[0,200],"nice":false},"axis":{"labels":false,"title":null}},"order":{"value":null}}},
  {"data":{"name":"ref"},"transform":[{"filter":{"field":"s","equal":"I"}}],"mark":{"type":"line","color":"#000000","strokeWidth":1.2},"encoding":{"x":{"field":"x","type":"quantitative","scale":{"domain":[-60,60],"nice":false},"axis":{"orient":"top","labels":false,"title":null}},"y":{"field":"y","type":"quantitative","scale":{"domain":[0,200],"nice":false},"axis":{"orient":"right","labels":false,"title":null}},"order":{"value":null}}}]},
 {"width":128,"height":141,"title":"P5, MAS=3","resolve":{"axis":{"x":"independent","y":"independent"}},"layer":[
  {"data":{"name":"tr"},"transform":[{"filter":{"field":"p","equal":"a6"}}],"mark":{"type":"line","color":"#0000ff","strokeWidth":1.1,"interpolate":"catmull-rom"},"encoding":{"x":{"field":"x","type":"quantitative","scale":{"domain":[-60,60],"nice":false},"axis":{"title":null}},"y":{"field":"y","type":"quantitative","scale":{"domain":[0,200],"nice":false},"axis":{"labels":false,"title":null}},"order":{"value":null}}},
  {"data":{"name":"ref"},"transform":[{"filter":{"field":"s","equal":"I"}}],"mark":{"type":"line","color":"#000000","strokeWidth":1.2},"encoding":{"x":{"field":"x","type":"quantitative","scale":{"domain":[-60,60],"nice":false},"axis":{"orient":"top","labels":false,"title":null}},"y":{"field":"y","type":"quantitative","scale":{"domain":[0,200],"nice":false},"axis":{"orient":"right","labels":false,"title":null}},"order":{"value":null}}}]}
 ],
 "spacing": 38.4, "bounds": "flush",
 "title": {"text":"Hand Rotation( ᵒ)","subtitle":"(a)","orient":"bottom","anchor":"middle","dx":11,"fontSize":20,"fontWeight":"normal","color":"#262626","offset":10,"subtitleFont":"Liberation Serif","subtitleFontSize":26,"subtitleFontWeight":"bold","subtitleColor":"#000000","subtitlePadding":9}
},
{"spacing": 14, "vconcat": [
{"hconcat": [
 {"width":128,"height":141,"title":{"text":"Healthy","dy":8,"dx":2},"resolve":{"axis":{"x":"independent","y":"independent"}},"layer":[
  {"data":{"name":"tr"},"transform":[{"filter":{"field":"p","equal":"b1"}}],"mark":{"type":"line","color":"#0000ff","strokeWidth":1.3},"encoding":{"x":{"field":"x","type":"quantitative","scale":{"domain":[-60,60],"nice":false},"axis":{"title":null}},"y":{"field":"y","type":"quantitative","scale":{"domain":[0,200],"nice":false},"axis":{"title":"Reaching (mm)"}},"order":{"value":null}}},
  {"data":{"name":"ref"},"transform":[{"filter":{"field":"s","equal":"D"}}],"mark":{"type":"line","color":"#000000","strokeWidth":1.2},"encoding":{"x":{"field":"x","type":"quantitative","scale":{"domain":[-60,60],"nice":false},"axis":{"orient":"top","labels":false,"title":null}},"y":{"field":"y","type":"quantitative","scale":{"domain":[0,200],"nice":false},"axis":{"orient":"right","labels":false,"title":null}},"order":{"value":null}}}]},
 {"width":128,"height":141,"title":"P1, MAS=18","resolve":{"axis":{"x":"independent","y":"independent"}},"layer":[
  {"data":{"name":"tr"},"transform":[{"filter":{"field":"p","equal":"b2"}}],"mark":{"type":"line","color":"#0000ff","strokeWidth":1.2},"encoding":{"x":{"field":"x","type":"quantitative","scale":{"domain":[-60,60],"nice":false},"axis":{"title":null}},"y":{"field":"y","type":"quantitative","scale":{"domain":[0,200],"nice":false},"axis":{"labels":false,"title":null}},"order":{"value":null}}},
  {"data":{"name":"ref"},"transform":[{"filter":{"field":"s","equal":"D"}}],"mark":{"type":"line","color":"#000000","strokeWidth":1.2},"encoding":{"x":{"field":"x","type":"quantitative","scale":{"domain":[-60,60],"nice":false},"axis":{"orient":"top","labels":false,"title":null}},"y":{"field":"y","type":"quantitative","scale":{"domain":[0,200],"nice":false},"axis":{"orient":"right","labels":false,"title":null}},"order":{"value":null}}}]},
 {"width":128,"height":141,"title":"P2, MAS=13","resolve":{"axis":{"x":"independent","y":"independent"}},"layer":[
  {"data":{"name":"tr"},"transform":[{"filter":{"field":"p","equal":"b3"}}],"mark":{"type":"line","color":"#0000ff","strokeWidth":1.2},"encoding":{"x":{"field":"x","type":"quantitative","scale":{"domain":[-60,60],"nice":false},"axis":{"title":null}},"y":{"field":"y","type":"quantitative","scale":{"domain":[0,200],"nice":false},"axis":{"labels":false,"title":null}},"order":{"value":null}}},
  {"data":{"name":"ref"},"transform":[{"filter":{"field":"s","equal":"D"}}],"mark":{"type":"line","color":"#000000","strokeWidth":1.2},"encoding":{"x":{"field":"x","type":"quantitative","scale":{"domain":[-60,60],"nice":false},"axis":{"orient":"top","labels":false,"title":null}},"y":{"field":"y","type":"quantitative","scale":{"domain":[0,200],"nice":false},"axis":{"orient":"right","labels":false,"title":null}},"order":{"value":null}}}]},
 {"width":128,"height":141,"title":"P3, MAS=10","resolve":{"axis":{"x":"independent","y":"independent"}},"layer":[
  {"data":{"name":"tr"},"transform":[{"filter":{"field":"p","equal":"b4"}}],"mark":{"type":"line","color":"#0000ff","strokeWidth":1.1,"interpolate":"catmull-rom"},"encoding":{"x":{"field":"x","type":"quantitative","scale":{"domain":[-60,60],"nice":false},"axis":{"title":null}},"y":{"field":"y","type":"quantitative","scale":{"domain":[0,200],"nice":false},"axis":{"labels":false,"title":null}},"order":{"value":null}}},
  {"data":{"name":"ref"},"transform":[{"filter":{"field":"s","equal":"D"}}],"mark":{"type":"line","color":"#000000","strokeWidth":1.2},"encoding":{"x":{"field":"x","type":"quantitative","scale":{"domain":[-60,60],"nice":false},"axis":{"orient":"top","labels":false,"title":null}},"y":{"field":"y","type":"quantitative","scale":{"domain":[0,200],"nice":false},"axis":{"orient":"right","labels":false,"title":null}},"order":{"value":null}}}]},
 {"width":128,"height":141,"title":"P4, MAS=8","resolve":{"axis":{"x":"independent","y":"independent"}},"layer":[
  {"data":{"name":"tr"},"transform":[{"filter":{"field":"p","equal":"b5"}}],"mark":{"type":"line","color":"#0000ff","strokeWidth":1.1,"interpolate":"catmull-rom"},"encoding":{"x":{"field":"x","type":"quantitative","scale":{"domain":[-60,60],"nice":false},"axis":{"title":null}},"y":{"field":"y","type":"quantitative","scale":{"domain":[0,200],"nice":false},"axis":{"labels":false,"title":null}},"order":{"value":null}}},
  {"data":{"name":"ref"},"transform":[{"filter":{"field":"s","equal":"D"}}],"mark":{"type":"line","color":"#000000","strokeWidth":1.2},"encoding":{"x":{"field":"x","type":"quantitative","scale":{"domain":[-60,60],"nice":false},"axis":{"orient":"top","labels":false,"title":null}},"y":{"field":"y","type":"quantitative","scale":{"domain":[0,200],"nice":false},"axis":{"orient":"right","labels":false,"title":null}},"order":{"value":null}}}]},
 {"width":128,"height":141,"title":"P5, MAS=3","resolve":{"axis":{"x":"independent","y":"independent"}},"layer":[
  {"data":{"name":"tr"},"transform":[{"filter":{"field":"p","equal":"b6"}}],"mark":{"type":"line","color":"#0000ff","strokeWidth":1.1,"interpolate":"catmull-rom"},"encoding":{"x":{"field":"x","type":"quantitative","scale":{"domain":[-60,60],"nice":false},"axis":{"title":null}},"y":{"field":"y","type":"quantitative","scale":{"domain":[0,200],"nice":false},"axis":{"labels":false,"title":null}},"order":{"value":null}}},
  {"data":{"name":"ref"},"transform":[{"filter":{"field":"s","equal":"D"}}],"mark":{"type":"line","color":"#000000","strokeWidth":1.2},"encoding":{"x":{"field":"x","type":"quantitative","scale":{"domain":[-60,60],"nice":false},"axis":{"orient":"top","labels":false,"title":null}},"y":{"field":"y","type":"quantitative","scale":{"domain":[0,200],"nice":false},"axis":{"orient":"right","labels":false,"title":null}},"order":{"value":null}}}]}
 ],
 "spacing": 38.4, "bounds": "flush",
 "title": {"text":"Hand Rotation( ᵒ)","subtitle":"(b)","orient":"bottom","anchor":"middle","dx":11,"fontSize":20,"fontWeight":"normal","color":"#262626","offset":10,"subtitleFont":"Liberation Serif","subtitleFontSize":26,"subtitleFontWeight":"bold","subtitleColor":"#000000","subtitlePadding":9}
},
{"hconcat": [
 {"width":128,"height":141,"title":{"text":"Healthy","dy":8,"dx":2},"resolve":{"axis":{"x":"independent","y":"independent"}},"layer":[
  {"data":{"name":"tr"},"transform":[{"filter":{"field":"p","equal":"c1"}}],"mark":{"type":"line","color":"#0000ff","strokeWidth":1.3,"interpolate":"catmull-rom"},"encoding":{"x":{"field":"x","type":"quantitative","scale":{"domain":[-60,60],"nice":false},"axis":{"title":null}},"y":{"field":"y","type":"quantitative","scale":{"domain":[0,200],"nice":false},"axis":{"title":"Reaching (mm)"}},"order":{"value":null}}},
  {"data":{"name":"ref"},"transform":[{"filter":{"field":"s","equal":"C"}}],"mark":{"type":"line","color":"#000000","strokeWidth":1.2},"encoding":{"x":{"field":"x","type":"quantitative","scale":{"domain":[-60,60],"nice":false},"axis":{"orient":"top","labels":false,"title":null}},"y":{"field":"y","type":"quantitative","scale":{"domain":[0,200],"nice":false},"axis":{"orient":"right","labels":false,"title":null}},"order":{"value":null}}}]},
 {"width":128,"height":141,"title":"P1, MAS=18","resolve":{"axis":{"x":"independent","y":"independent"}},"layer":[
  {"data":{"name":"tr"},"transform":[{"filter":{"field":"p","equal":"c2"}}],"mark":{"type":"line","color":"#0000ff","strokeWidth":1.2,"interpolate":"catmull-rom"},"encoding":{"x":{"field":"x","type":"quantitative","scale":{"domain":[-60,60],"nice":false},"axis":{"title":null}},"y":{"field":"y","type":"quantitative","scale":{"domain":[0,200],"nice":false},"axis":{"labels":false,"title":null}},"order":{"value":null}}},
  {"data":{"name":"ref"},"transform":[{"filter":{"field":"s","equal":"C"}}],"mark":{"type":"line","color":"#000000","strokeWidth":1.2},"encoding":{"x":{"field":"x","type":"quantitative","scale":{"domain":[-60,60],"nice":false},"axis":{"orient":"top","labels":false,"title":null}},"y":{"field":"y","type":"quantitative","scale":{"domain":[0,200],"nice":false},"axis":{"orient":"right","labels":false,"title":null}},"order":{"value":null}}}]},
 {"width":128,"height":141,"title":"P2, MAS=13","resolve":{"axis":{"x":"independent","y":"independent"}},"layer":[
  {"data":{"name":"tr"},"transform":[{"filter":{"field":"p","equal":"c3"}}],"mark":{"type":"line","color":"#0000ff","strokeWidth":1.2},"encoding":{"x":{"field":"x","type":"quantitative","scale":{"domain":[-60,60],"nice":false},"axis":{"title":null}},"y":{"field":"y","type":"quantitative","scale":{"domain":[0,200],"nice":false},"axis":{"labels":false,"title":null}},"order":{"value":null}}},
  {"data":{"name":"ref"},"transform":[{"filter":{"field":"s","equal":"C"}}],"mark":{"type":"line","color":"#000000","strokeWidth":1.2},"encoding":{"x":{"field":"x","type":"quantitative","scale":{"domain":[-60,60],"nice":false},"axis":{"orient":"top","labels":false,"title":null}},"y":{"field":"y","type":"quantitative","scale":{"domain":[0,200],"nice":false},"axis":{"orient":"right","labels":false,"title":null}},"order":{"value":null}}}]},
 {"width":128,"height":141,"title":"P3, MAS=10","resolve":{"axis":{"x":"independent","y":"independent"}},"layer":[
  {"data":{"name":"tr"},"transform":[{"filter":{"field":"p","equal":"c4"}}],"mark":{"type":"line","color":"#0000ff","strokeWidth":1.1,"interpolate":"catmull-rom"},"encoding":{"x":{"field":"x","type":"quantitative","scale":{"domain":[-60,60],"nice":false},"axis":{"title":null}},"y":{"field":"y","type":"quantitative","scale":{"domain":[0,200],"nice":false},"axis":{"labels":false,"title":null}},"order":{"value":null}}},
  {"data":{"name":"ref"},"transform":[{"filter":{"field":"s","equal":"C"}}],"mark":{"type":"line","color":"#000000","strokeWidth":1.2},"encoding":{"x":{"field":"x","type":"quantitative","scale":{"domain":[-60,60],"nice":false},"axis":{"orient":"top","labels":false,"title":null}},"y":{"field":"y","type":"quantitative","scale":{"domain":[0,200],"nice":false},"axis":{"orient":"right","labels":false,"title":null}},"order":{"value":null}}}]},
 {"width":128,"height":141,"title":"P4, MAS=8","resolve":{"axis":{"x":"independent","y":"independent"}},"layer":[
  {"data":{"name":"tr"},"transform":[{"filter":{"field":"p","equal":"c5"}}],"mark":{"type":"line","color":"#0000ff","strokeWidth":1.1,"interpolate":"catmull-rom"},"encoding":{"x":{"field":"x","type":"quantitative","scale":{"domain":[-60,60],"nice":false},"axis":{"title":null}},"y":{"field":"y","type":"quantitative","scale":{"domain":[0,200],"nice":false},"axis":{"labels":false,"title":null}},"order":{"value":null}}},
  {"data":{"name":"ref"},"transform":[{"filter":{"field":"s","equal":"C"}}],"mark":{"type":"line","color":"#000000","strokeWidth":1.2},"encoding":{"x":{"field":"x","type":"quantitative","scale":{"domain":[-60,60],"nice":false},"axis":{"orient":"top","labels":false,"title":null}},"y":{"field":"y","type":"quantitative","scale":{"domain":[0,200],"nice":false},"axis":{"orient":"right","labels":false,"title":null}},"order":{"value":null}}}]},
 {"width":128,"height":141,"title":"P5, MAS=3","resolve":{"axis":{"x":"independent","y":"independent"}},"layer":[
  {"data":{"name":"tr"},"transform":[{"filter":{"field":"p","equal":"c6"}}],"mark":{"type":"line","color":"#0000ff","strokeWidth":1.1,"interpolate":"catmull-rom"},"encoding":{"x":{"field":"x","type":"quantitative","scale":{"domain":[-60,60],"nice":false},"axis":{"title":null}},"y":{"field":"y","type":"quantitative","scale":{"domain":[0,200],"nice":false},"axis":{"labels":false,"title":null}},"order":{"value":null}}},
  {"data":{"name":"ref"},"transform":[{"filter":{"field":"s","equal":"C"}}],"mark":{"type":"line","color":"#000000","strokeWidth":1.2},"encoding":{"x":{"field":"x","type":"quantitative","scale":{"domain":[-60,60],"nice":false},"axis":{"orient":"top","labels":false,"title":null}},"y":{"field":"y","type":"quantitative","scale":{"domain":[0,200],"nice":false},"axis":{"orient":"right","labels":false,"title":null}},"order":{"value":null}}}]}
 ],
 "spacing": 38.4, "bounds": "flush",
 "title": {"text":"Hand Rotation( ᵒ)","subtitle":"(c)","orient":"bottom","anchor":"middle","dx":11,"fontSize":20,"fontWeight":"normal","color":"#262626","offset":10,"subtitleFont":"Liberation Serif","subtitleFontSize":26,"subtitleFontWeight":"bold","subtitleColor":"#000000","subtitlePadding":9}
}
]}
]
}
